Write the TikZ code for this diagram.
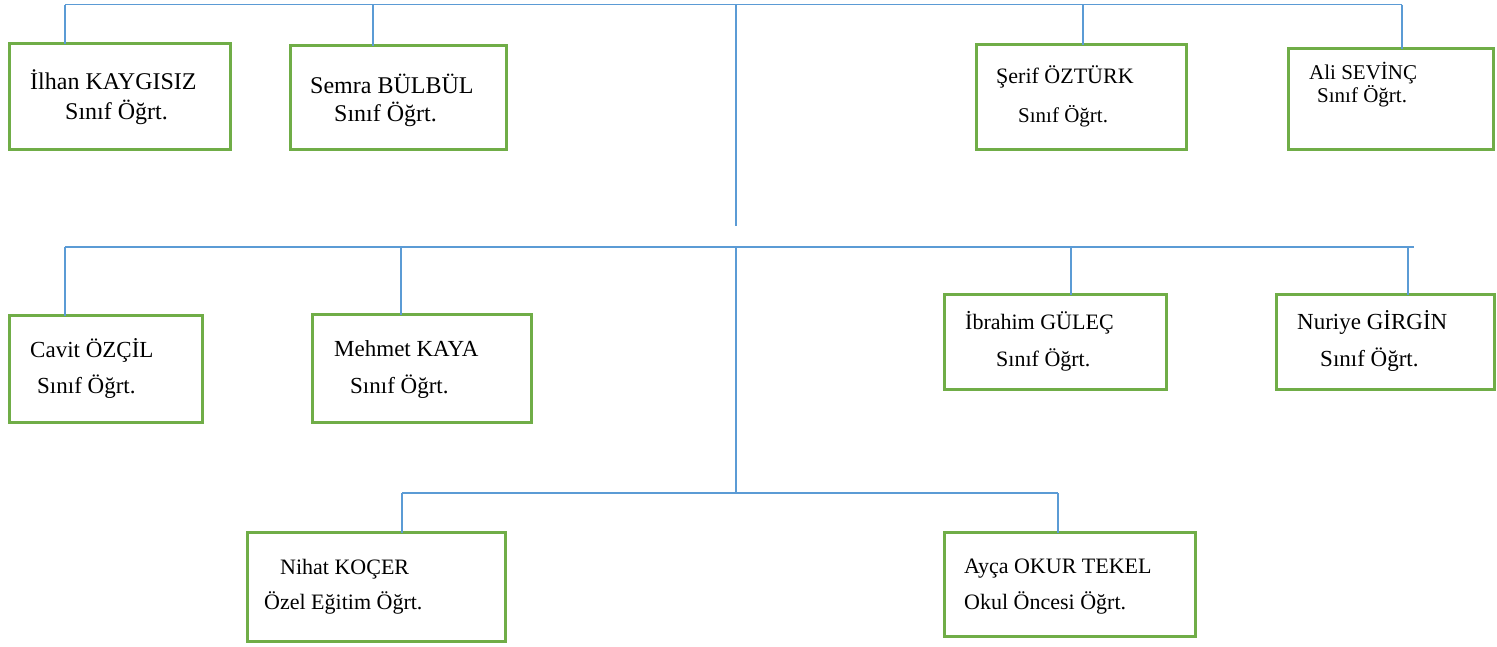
\documentclass[tikz,border=0pt]{standalone}
\usepackage{fontspec}
\setmainfont{Liberation Serif}
\definecolor{lineblue}{RGB}{91,155,213}
\definecolor{boxgreen}{RGB}{112,173,71}
\tikzset{
  box/.style={draw=boxgreen, line width=3pt, fill=white, inner sep=0pt, outer sep=0pt, anchor=north west},
  conn/.style={draw=lineblue, line width=1.2pt},
  txt/.style={anchor=base west, inner sep=0pt, text=black},
  fa/.style={txt, font=\fontsize{24}{28}\selectfont},
  fb/.style={txt, font=\fontsize{21}{25}\selectfont},
  fc/.style={txt, font=\fontsize{23}{27}\selectfont},
  fd/.style={txt, font=\fontsize{22}{26}\selectfont},
}
\begin{document}
\begin{tikzpicture}[x=1pt, y=-1pt]
\useasboundingbox (0,0) rectangle (1497,646);
% boxes
\node[box, minimum width=221pt, minimum height=106pt] (ilhan) at (9.5,43.5) {};
\node[box, minimum width=216pt, minimum height=104pt] (semra) at (290.5,45.5) {};
\node[box, minimum width=210pt, minimum height=105pt] (serif) at (976.5,44.5) {};
\node[box, minimum width=205pt, minimum height=101pt] (ali) at (1288.5,48.5) {};
\node[box, minimum width=193pt, minimum height=107pt] (cavit) at (9.5,315.5) {};
\node[box, minimum width=219pt, minimum height=108pt] (mehmet) at (312.5,314.5) {};
\node[box, minimum width=222pt, minimum height=95pt] (ibrahim) at (944.5,294.5) {};
\node[box, minimum width=218pt, minimum height=95pt] (nuriye) at (1276.5,294.5) {};
\node[box, minimum width=258pt, minimum height=109pt] (nihat) at (247.5,532.5) {};
\node[box, minimum width=251pt, minimum height=104pt] (ayca) at (944.5,532.5) {};
% connector coordinates
\coordinate (a1) at (65,4.5);
\coordinate (a2) at (373,4.5);
\coordinate (am) at (736,4.5);
\coordinate (a3) at (1083,4.5);
\coordinate (a4) at (1402,4.5);
\coordinate (amend) at (736,226);
\coordinate (b1) at (65,247);
\coordinate (b2) at (401,247);
\coordinate (bm) at (736,247);
\coordinate (b3) at (1071,247);
\coordinate (b4) at (1408,247);
\coordinate (bend) at (1414,247);
\coordinate (c1) at (402,493);
\coordinate (cm) at (736,493);
\coordinate (c2) at (1058,493);
% connectors
\draw[conn] (a1) -- (a4);
\draw[conn] (am) -- (amend);
\draw[conn] (a1) -- (a1 |- ilhan.north);
\draw[conn] (a2) -- (a2 |- semra.north);
\draw[conn] (a3) -- (a3 |- serif.north);
\draw[conn] (a4) -- (a4 |- ali.north);
\draw[conn] (b1) -- (bend);
\draw[conn] (bm) -- (cm);
\draw[conn] (b1) -- (b1 |- cavit.north);
\draw[conn] (b2) -- (b2 |- mehmet.north);
\draw[conn] (b3) -- (b3 |- ibrahim.north);
\draw[conn] (b4) -- (b4 |- nuriye.north);
\draw[conn] (c1) -- (c2);
\draw[conn] (c1) -- (c1 |- nihat.north);
\draw[conn] (c2) -- (c2 |- ayca.north);
% texts
\node[fa] (t1a) at (30,89) {İlhan KAYGISIZ};
\node[fa] (t1b) at (65,119) {Sınıf Öğrt.};
\node[fa] (t2a) at (310,93) {Semra BÜLBÜL};
\node[fa] (t2b) at (334,121) {Sınıf Öğrt.};
\node[fd] (t3a) at (996,83) {Şerif ÖZTÜRK};
\node[fb] (t3b) at (1018,122) {Sınıf Öğrt.};
\node[fb] (t4a) at (1309,79) {Ali SEVİNÇ};
\node[fb] (t4b) at (1317,102) {Sınıf Öğrt.};
\node[fc] (t5a) at (30,357) {Cavit ÖZÇİL};
\node[fc] (t5b) at (37,393) {Sınıf Öğrt.};
\node[fc] (t6a) at (334,356) {Mehmet KAYA};
\node[fc] (t6b) at (350,393) {Sınıf Öğrt.};
\node[fd] (t7a) at (965,329) {İbrahim GÜLEÇ};
\node[fd] (t7b) at (996,366) {Sınıf Öğrt.};
\node[fc] (t8a) at (1297,329) {Nuriye GİRGİN};
\node[fc] (t8b) at (1320,366) {Sınıf Öğrt.};
\node[fd] (t9a) at (280,574) {Nihat KOÇER};
\node[fd] (t9b) at (264,609) {Özel Eğitim Öğrt.};
\node[fd] (t10a) at (964,573) {Ayça OKUR TEKEL};
\node[fd] (t10b) at (964,609) {Okul Öncesi Öğrt.};
\end{tikzpicture}
\end{document}
